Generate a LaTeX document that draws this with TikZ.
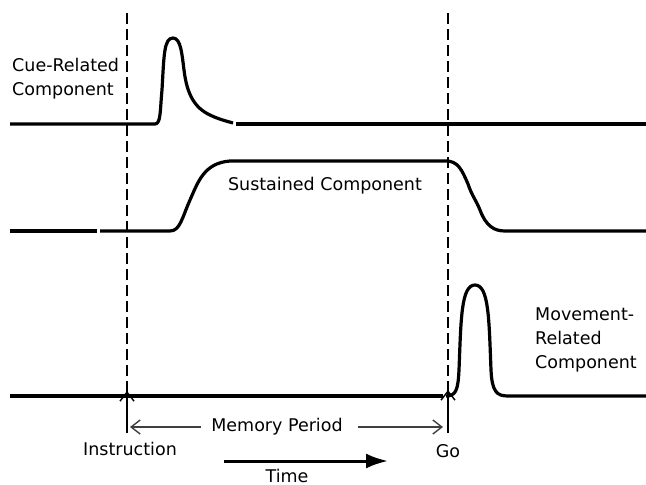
\documentclass[tikz,border=0pt]{standalone}
\usepackage{fontspec}
\setmainfont{DejaVu Sans}
\usetikzlibrary{arrows.meta,positioning}

\tikzset{
  trace/.style={line width=3.2pt,line cap=butt,line join=round},
  marker/.style={line width=1.2pt,dash pattern=on 11pt off 5pt},
  lbl/.style={font=\fontsize{17.5}{24}\selectfont,inner sep=0pt},
  thinarr/.style={line width=1.2pt,-{Straight Barb[length=9pt,width=14pt,line width=1.4pt]}},
}

\begin{document}
\begin{tikzpicture}[x=1pt,y=-1pt]
  \useasboundingbox (0,0) rectangle (646,485);
  % event times
  \coordinate (instr) at (127,396);
  \coordinate (go) at (448,396);
  \draw[marker] (127,13) -- (instr);
  \draw[marker] (448,13) -- (go);

  % cue related
  \draw[trace] (10,124) -- (155,124) .. controls (161,124) and (160,110) .. (162,90)
    .. controls (164,55) and (164,38) .. (173,38) .. controls (181,38) and (182,55) .. (184,70)
    .. controls (187,95) and (195,108) .. (210,115) .. controls (218,119) and (226,121) .. (233,123);
  \draw[trace] (236,124) -- (646,124);
  \node[lbl,anchor=west,align=left] (cuelbl) at (12,79) {Cue-Related\\Component};

  % sustained
  \draw[trace] (10,231) -- (97,231);
  \draw[trace] (100,231) -- (170,231) .. controls (180,231) and (182,218) .. (190,200)
    .. controls (198,182) and (204,163) .. (230,161) -- (446,161)
    .. controls (458,161) and (462,170) .. (468,184) .. controls (472,196) and (476,200) .. (480,210)
    .. controls (486,226) and (494,231) .. (505,231) -- (646,231);
  \node[lbl] (suslbl) at (325,186) {Sustained Component};

  % movement related
  \draw[trace] (10,396) -- (443,396);
  \draw[trace] (446,396) .. controls (456,396) and (458,390) .. (459,370)
    .. controls (461,320) and (461,285) .. (475,285) .. controls (489,285) and (489,320) .. (491,370)
    .. controls (492,392) and (497,396) .. (508,396) -- (646,396);
  \node[lbl,anchor=west,align=left] (movlbl) at (535,340) {Movement-\\Related\\Component};

  % events and period
  \node[lbl] (instrlbl) at (130,449) {Instruction};
  \node[lbl] (golbl) at (448,451) {Go};
  \draw[thinarr] (127,433) -- ([yshift=5pt]instr);
  \draw[thinarr] (448,433) -- ([yshift=6pt]go);
  \node[lbl] (memlbl) at (277,427) {Memory Period};
  \draw[line width=1.2pt] (127,415) -- (127,433);
  \draw[thinarr,black!75] ([xshift=-10pt]memlbl.west) -- (130,427);
  \draw[thinarr,black!75] ([xshift=15pt]memlbl.east) -- (443,427);

  % time axis
  \coordinate (tstart) at (224,461);
  \coordinate (tend) at (388,461);
  \draw[line width=3pt,-{Latex[length=22pt,width=15pt]}] (tstart) -- (tend);
  \node[lbl,anchor=base] (timelbl) at (287,482) {Time};
\end{tikzpicture}
\end{document}
